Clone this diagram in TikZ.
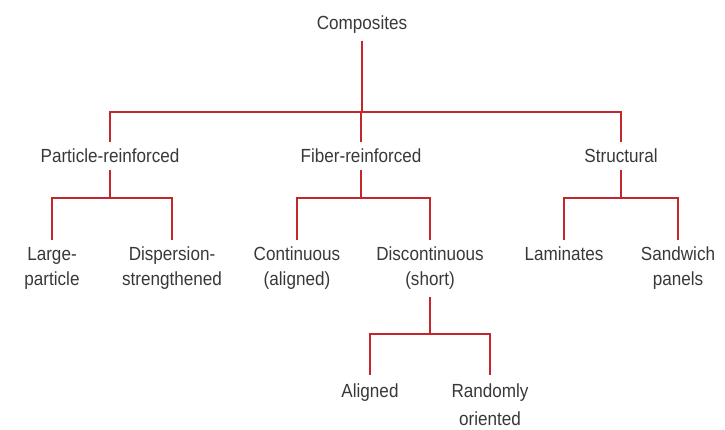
\documentclass[tikz,border=0pt]{standalone}
\usepackage{fontspec}
\setmainfont{Liberation Sans}[FakeStretch=0.9]
\definecolor{linkred}{HTML}{C1272D}
\definecolor{txtgray}{HTML}{383838}
\begin{document}
\begin{tikzpicture}[x=1pt,y=1pt,
  lbl/.style={font=\fontsize{19}{25}\selectfont, text=txtgray, align=center,
              inner sep=0pt, outer xsep=0pt, outer ysep=7pt, anchor=north},
  lowlbl/.style={lbl, font=\fontsize{19}{28}\selectfont, outer ysep=9pt},
  link/.style={draw=linkred, line width=2.9pt}]
\useasboundingbox (0,0) rectangle (725,-430);
% nodes
\node[lbl] (comp) at (362,-9) {Composites};
\node[lbl] (part) at (110,-142) {Particle-reinforced};
\node[lbl] (fib) at (361,-142) {Fiber-reinforced};
\node[lbl] (str) at (621,-142) {Structural};
\node[lbl] (large) at (52,-240) {Large-\\particle};
\node[lbl] (disp) at (172,-240) {Dispersion-\\strengthened};
\node[lbl] (cont) at (297,-240) {Continuous\\(aligned)};
\node[lbl] (disc) at (430,-240) {Discontinuous\\(short)};
\node[lbl] (lam) at (564,-240) {Laminates};
\node[lbl] (sand) at (678,-240) {Sandwich\\panels};
\node[lowlbl] (ali) at (370,-375) {Aligned};
\node[lowlbl] (rand) at (490,-375) {Randomly\\oriented};
% bar levels
\coordinate (bar1) at (0,-112);
\coordinate (bar2) at (0,-198);
\coordinate (bar3) at (0,-334);
% connectors
\foreach \c in {part,fib,str}
  \draw[link] (comp.south) -- (comp.south |- bar1) -| (\c.north);
\foreach \c in {large,disp}
  \draw[link] (part.south) -- (part.south |- bar2) -| (\c.north);
\foreach \c in {cont,disc}
  \draw[link] (fib.south) -- (fib.south |- bar2) -| (\c.north);
\foreach \c in {lam,sand}
  \draw[link] (str.south) -- (str.south |- bar2) -| (\c.north);
\foreach \c in {ali,rand}
  \draw[link] (disc.south) -- (disc.south |- bar3) -| (\c.north);
\end{tikzpicture}
\end{document}
